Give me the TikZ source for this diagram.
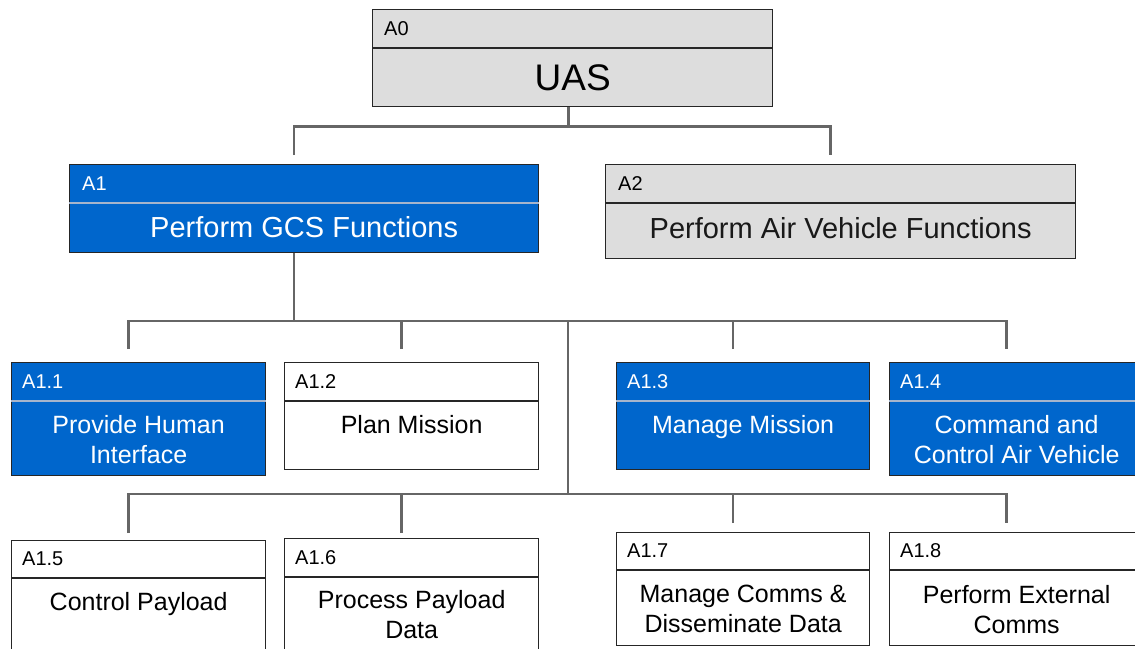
\documentclass[tikz,border=0pt]{standalone}
\usepackage{fontspec}
\setmainfont{Liberation Sans}
\definecolor{fnblue}{HTML}{0066CC}
\definecolor{fngray}{HTML}{DDDDDD}
\definecolor{fnline}{HTML}{A6B5CC}
\definecolor{fnlink}{HTML}{666666}

\begin{document}
\begin{tikzpicture}[x=1pt, y=-1pt,
  fnbox/.style={draw=black!85, line width=1.3pt, anchor=north west, inner sep=0pt, minimum width=254pt, minimum height=113pt},
  hdiv/.style={draw=black!85, line width=1.1pt},
  hdivlight/.style={draw=fnline, line width=1.1pt},
  idtext/.style={anchor=west, inner sep=0pt, font=\fontsize{20}{22}\selectfont},
  subtitle/.style={anchor=north, inner sep=0pt, align=center, font=\fontsize{25}{30}\selectfont},
  toptitle/.style={inner sep=0pt, font=\fontsize{29}{31}\selectfont},
  link/.style={draw=fnlink, line width=2.6pt}]

\useasboundingbox (0,0) rectangle (1135,648);
\clip (0,0) rectangle (1135,648);

% level 0
\node[fnbox, fill=fngray, minimum width=400pt, minimum height=97pt] (a0) at (372,9) {};
\draw[hdiv] ([yshift=-39pt]a0.north west) -- ([yshift=-39pt]a0.north east);
\node[idtext] (a0-id) at ([xshift=12pt,yshift=-19.5pt]a0.north west) {A0};
\node[toptitle, font=\fontsize{37}{40}\selectfont] (a0-txt) at ([yshift=-69pt]a0.north) {UAS};

% level 1
\node[fnbox, fill=fnblue, minimum width=469pt, minimum height=88pt] (a1) at (69,164) {};
\draw[hdivlight] ([yshift=-39pt]a1.north west) -- ([yshift=-39pt]a1.north east);
\node[idtext, white] (a1-id) at ([xshift=13pt,yshift=-19.5pt]a1.north west) {A1};
\node[toptitle, white] (a1-txt) at ([yshift=-63pt]a1.north) {Perform GCS Functions};

\node[fnbox, fill=fngray, minimum width=470pt, minimum height=94pt] (a2) at (605,164) {};
\draw[hdiv] ([yshift=-39pt]a2.north west) -- ([yshift=-39pt]a2.north east);
\node[idtext] (a2-id) at ([xshift=13pt,yshift=-19.5pt]a2.north west) {A2};
\node[toptitle, black!90] (a2-txt) at ([yshift=-64pt]a2.north) {Perform Air Vehicle Functions};

% level 2, first row
\node[fnbox, fill=fnblue] (a11) at (11,362) {};
\draw[hdivlight] ([yshift=-39pt]a11.north west) -- ([yshift=-39pt]a11.north east);
\node[idtext, white] (a11-id) at ([xshift=11pt,yshift=-19.5pt]a11.north west) {A1.1};
\node[subtitle, white] (a11-txt) at ([yshift=-53pt]a11.north) {Provide Human\\Interface};

\node[fnbox, fill=white, minimum height=107pt] (a12) at (284,362) {};
\draw[hdiv] ([yshift=-39pt]a12.north west) -- ([yshift=-39pt]a12.north east);
\node[idtext] (a12-id) at ([xshift=11pt,yshift=-19.5pt]a12.north west) {A1.2};
\node[subtitle] (a12-txt) at ([yshift=-53pt]a12.north) {Plan Mission};

\node[fnbox, fill=fnblue, minimum width=253pt, minimum height=107pt] (a13) at (616,362) {};
\draw[hdivlight] ([yshift=-39pt]a13.north west) -- ([yshift=-39pt]a13.north east);
\node[idtext, white] (a13-id) at ([xshift=11pt,yshift=-19.5pt]a13.north west) {A1.3};
\node[subtitle, white] (a13-txt) at ([yshift=-53pt]a13.north) {Manage Mission};

\node[fnbox, fill=fnblue] (a14) at (889,362) {};
\draw[hdivlight] ([yshift=-39pt]a14.north west) -- ([yshift=-39pt]a14.north east);
\node[idtext, white] (a14-id) at ([xshift=11pt,yshift=-19.5pt]a14.north west) {A1.4};
\node[subtitle, white] (a14-txt) at ([yshift=-53pt]a14.north) {Command and\\Control Air Vehicle};

% level 2, second row
\node[fnbox, fill=white, minimum height=120pt] (a15) at (11,540) {};
\draw[hdiv] ([yshift=-38pt]a15.north west) -- ([yshift=-38pt]a15.north east);
\node[idtext] (a15-id) at ([xshift=11pt,yshift=-19pt]a15.north west) {A1.5};
\node[subtitle] (a15-txt) at ([yshift=-52pt]a15.north) {Control Payload};

\node[fnbox, fill=white, minimum height=120pt] (a16) at (284,538) {};
\draw[hdiv] ([yshift=-39pt]a16.north west) -- ([yshift=-39pt]a16.north east);
\node[idtext] (a16-id) at ([xshift=11pt,yshift=-19.5pt]a16.north west) {A1.6};
\node[subtitle] (a16-txt) at ([yshift=-52pt]a16.north) {Process Payload\\Data};

\node[fnbox, fill=white, minimum width=253pt] (a17) at (616,532) {};
\draw[hdiv] ([yshift=-38pt]a17.north west) -- ([yshift=-38pt]a17.north east);
\node[idtext] (a17-id) at ([xshift=11pt,yshift=-19pt]a17.north west) {A1.7};
\node[subtitle] (a17-txt) at ([yshift=-53pt]a17.north) {Manage Comms \&\\Disseminate Data};

\node[fnbox, fill=white] (a18) at (889,532) {};
\draw[hdiv] ([yshift=-38pt]a18.north west) -- ([yshift=-38pt]a18.north east);
\node[idtext] (a18-id) at ([xshift=11pt,yshift=-19pt]a18.north west) {A1.8};
\node[subtitle] (a18-txt) at ([yshift=-53pt]a18.north) {Perform External\\Comms};

% connectors
\coordinate (a1-in) at ([xshift=-10pt,yshift=9pt]a1.north);
\coordinate (a2-in) at ([xshift=-10pt,yshift=9pt]a2.north);
\coordinate (a11-in) at ([xshift=-10pt,yshift=13pt]a11.north);
\coordinate (a12-in) at ([xshift=-10pt,yshift=13pt]a12.north);
\coordinate (a13-in) at ([xshift=-10pt,yshift=13pt]a13.north);
\coordinate (a14-in) at ([xshift=-10pt,yshift=13pt]a14.north);
\coordinate (a15-in) at ([xshift=-10pt,yshift=7pt]a15.north);
\coordinate (a16-in) at ([xshift=-10pt,yshift=5pt]a16.north);
\coordinate (a17-in) at ([xshift=-10pt,yshift=9pt]a17.north);
\coordinate (a18-in) at ([xshift=-10pt,yshift=9pt]a18.north);
\coordinate (bar0) at ([xshift=-4pt,yshift=-19pt]a0.south);
\coordinate (bar1) at (568,321);
\coordinate (bar2) at (568,494);

\draw[link] ([xshift=-4pt]a0.south) -- (bar0);
\draw[link] (a1-in) |- (bar0) -| (a2-in);

\draw[link] ([xshift=-10pt]a1.south) -- ([xshift=-10pt]a1.south |- bar1);
\draw[link] (a11-in) |- (bar1) -| (a14-in);
\draw[link] (a12-in) -- (a12-in |- bar1);
\draw[link] (a13-in) -- (a13-in |- bar1);
\draw[link] (bar1) -- (bar2);

\draw[link] (a15-in) |- (bar2) -| (a18-in);
\draw[link] (a16-in) -- (a16-in |- bar2);
\draw[link] (a17-in) -- (a17-in |- bar2);

\end{tikzpicture}
\end{document}
